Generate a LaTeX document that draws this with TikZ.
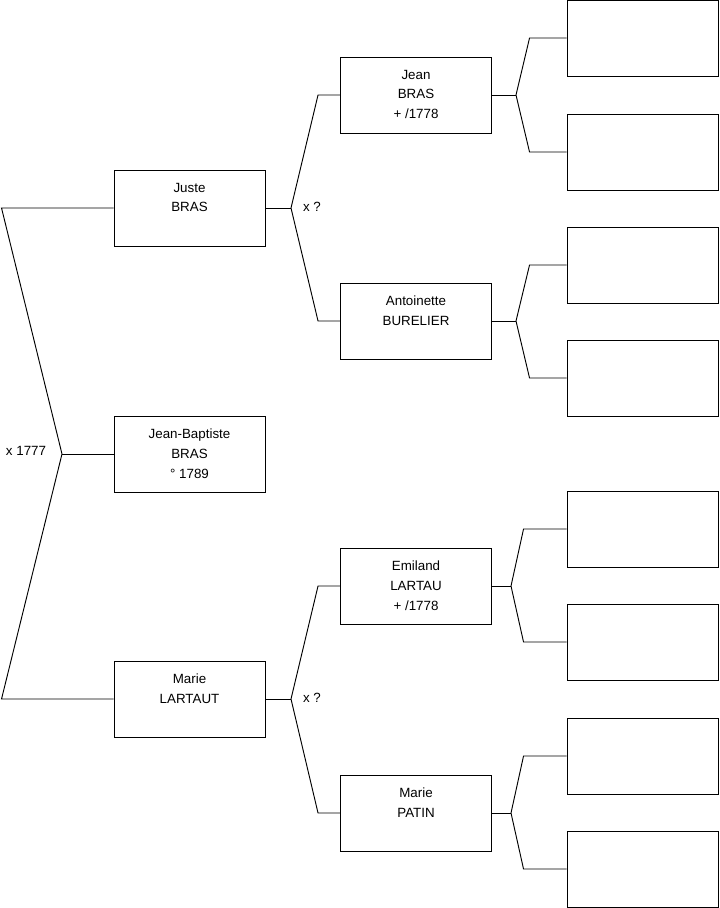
\documentclass[tikz,border=0pt]{standalone}
\usepackage{fontspec}
\setmainfont{Liberation Sans}
\usetikzlibrary{positioning}

\begin{document}
\begin{tikzpicture}[
    x=0.03cm, y=-0.03cm,
    person/.style={draw, minimum width=4.53cm, minimum height=2.28cm, inner sep=0pt},
    idtext/.style={align=center, inner sep=0pt, font=\fontsize{11.4}{17}\selectfont},
    marr/.style={inner sep=0pt, font=\fontsize{11.4}{13}\selectfont},
    line width=0.8pt
]
    \useasboundingbox (0,0) rectangle (719,908);

    % Generation 1
    \node[person] (juste) at (189.5,208) {};
    \node[person] (jb) at (189.5,454) {};
    \node[person] (marie) at (189.5,699) {};
    \node[idtext, below=11pt of juste.north] (justeT) {Juste\\BRAS};
    \node[idtext, below=11pt of jb.north] (jbT) {Jean-Baptiste\\BRAS\\\textdegree{} 1789};
    \node[idtext, below=11pt of marie.north] (marieT) {Marie\\LARTAUT};

    % Generation 2
    \node[person] (jean) at (416,95) {};
    \node[person] (antoinette) at (416,321) {};
    \node[person] (emiland) at (416,586) {};
    \node[person] (patin) at (416,813) {};
    \node[idtext, below=11pt of jean.north] (jeanT) {Jean\\BRAS\\+ /1778};
    \node[idtext, below=11pt of antoinette.north] (antoinetteT) {Antoinette\\BURELIER};
    \node[idtext, below=11pt of emiland.north] (emilandT) {Emiland\\LARTAU\\+ /1778};
    \node[idtext, below=11pt of patin.north] (patinT) {Marie\\PATIN};

    % Generation 3 (empty)
    \node[person] (g1) at (642.5,38) {};
    \node[person] (g2) at (642.5,152) {};
    \node[person] (g3) at (642.5,265) {};
    \node[person] (g4) at (642.5,378) {};
    \node[person] (g5) at (642.5,529) {};
    \node[person] (g6) at (642.5,642) {};
    \node[person] (g7) at (642.5,756) {};
    \node[person] (g8) at (642.5,869) {};

    % Junctions
    \coordinate (m0) at (62,454);
    \coordinate (m1) at (291,208);
    \coordinate (m2) at (291,699);
    \coordinate (m3) at (516,95);
    \coordinate (m4) at (516,321);
    \coordinate (m5) at (511,586);
    \coordinate (m6) at (511,813);

    % Marriages
    \node[marr] (x0) at (26,451) {x 1777};
    \node[marr] (x1) at (312,207) {x ?};
    \node[marr] (x2) at (312,698) {x ?};

    % Brackets
    \draw (jb.west) -- (m0);
    \draw (juste.west) -- ++(-112,0) -- (m0);
    \draw (marie.west) -- ++(-112,0) -- (m0);

    \draw (juste.east) -- (m1);
    \draw (jean.west) -- ++(-22,0) -- (m1);
    \draw (antoinette.west) -- ++(-22,0) -- (m1);

    \draw (marie.east) -- (m2);
    \draw (emiland.west) -- ++(-22,0) -- (m2);
    \draw (patin.west) -- ++(-22,0) -- (m2);

    \draw (jean.east) -- (m3);
    \draw (g1.west) -- ++(-37,0) -- (m3);
    \draw (g2.west) -- ++(-37,0) -- (m3);

    \draw (antoinette.east) -- (m4);
    \draw (g3.west) -- ++(-37,0) -- (m4);
    \draw (g4.west) -- ++(-37,0) -- (m4);

    \draw (emiland.east) -- (m5);
    \draw (g5.west) -- ++(-43,0) -- (m5);
    \draw (g6.west) -- ++(-43,0) -- (m5);

    \draw (patin.east) -- (m6);
    \draw (g7.west) -- ++(-43,0) -- (m6);
    \draw (g8.west) -- ++(-43,0) -- (m6);
\end{tikzpicture}
\end{document}
